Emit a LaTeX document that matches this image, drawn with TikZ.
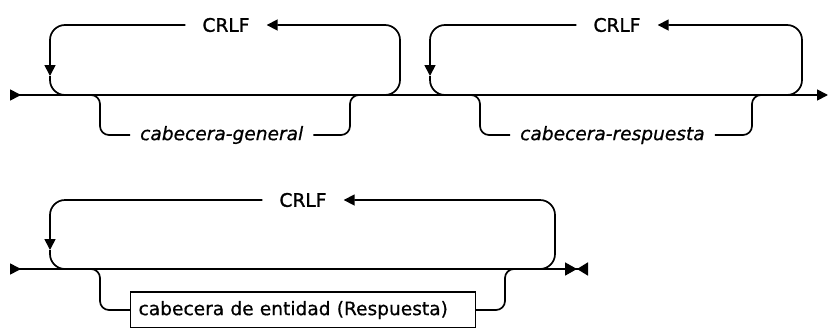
\documentclass[tikz,border=0pt]{standalone}
\usepackage{fontspec}
\setmainfont{DejaVu Sans}
\newfontfamily\kwfont{DejaVu Sans}[FakeBold=1.4]
\newfontfamily\varfont{DejaVu Sans}[FakeBold=0.6,ItalicFeatures={FakeBold=0.6}]
\usetikzlibrary{arrows.meta}
\tikzset{
  rail/.style={line width=1.7pt,rounded corners=15pt},
  branch/.style={line width=1.7pt,rounded corners=9pt},
  tip/.style={-{Triangle[length=11pt,width=11pt]}},
  kw/.style={inner xsep=17pt,inner ysep=0pt,font=\fontsize{18.6}{22}\kwfont},
  var/.style={inner xsep=10pt,inner ysep=0pt,font=\fontsize{18.6}{22}\varfont\itshape},
  ntbox/.style={draw,line width=1.2pt,inner xsep=8pt,inner ysep=0pt,minimum height=36pt,
                text width=329pt,align=left,font=\fontsize{18.6}{22}\varfont},
}
\begin{document}
\begin{tikzpicture}[x=1pt,y=-1pt]
  \useasboundingbox (0,0) rectangle (829,327);
  % first row: general and response headers
  \coordinate (inA) at (10,95);
  \coordinate (outA) at (828,95);
  \draw[rail,{Triangle[reversed,length=11pt,width=11pt]}-{Triangle[length=11pt,width=11pt]}] (inA) -- (outA);
  \node[kw] (crlfA) at (226,25) {CRLF};
  \draw[rail,tip] (380,95) -| (400,25) -- (crlfA.east);
  \draw[rail,tip] (crlfA.west) -| (50,76);
  \draw[rail] (50,76) |- (72,95);
  \node[var,anchor=west] (hdrA) at (130,135) {cabecera-general};
  \draw[branch] (85,95) -| (100,135) -- (hdrA.west);
  \draw[branch] (hdrA.east) -| (350,95) -- (365,95);
  \node[kw] (crlfB) at (617,25) {CRLF};
  \draw[rail,tip] (782,95) -| (802,25) -- (crlfB.east);
  \draw[rail,tip] (crlfB.west) -| (430,76);
  \draw[rail] (430,76) |- (452,95);
  \node[var,anchor=west] (hdrB) at (510,135) {cabecera-respuesta};
  \draw[branch] (465,95) -| (480,135) -- (hdrB.west);
  \draw[branch] (hdrB.east) -| (752,95) -- (767,95);
  % second row: entity header
  \coordinate (inC) at (10,269);
  \coordinate (outC) at (588,269);
  \draw[rail,{Triangle[reversed,length=11pt,width=11pt]}-{Triangle[length=12pt,width=13pt] Triangle[reversed,length=11pt,width=13pt]}] (inC) -- (outC);
  \node[kw] (crlfC) at (303,200) {CRLF};
  \draw[rail,tip] (535,269) -| (555,200) -- (crlfC.east);
  \draw[rail,tip] (crlfC.west) -| (50,250);
  \draw[rail] (50,250) |- (72,269);
  \node[ntbox,anchor=west] (entC) at (130,310) {cabecera de entidad (Respuesta)};
  \draw[branch] (85,269) -| (100,310) -- (entC.west);
  \draw[branch] (entC.east) -| (505,269) -- (520,269);
\end{tikzpicture}
\end{document}
